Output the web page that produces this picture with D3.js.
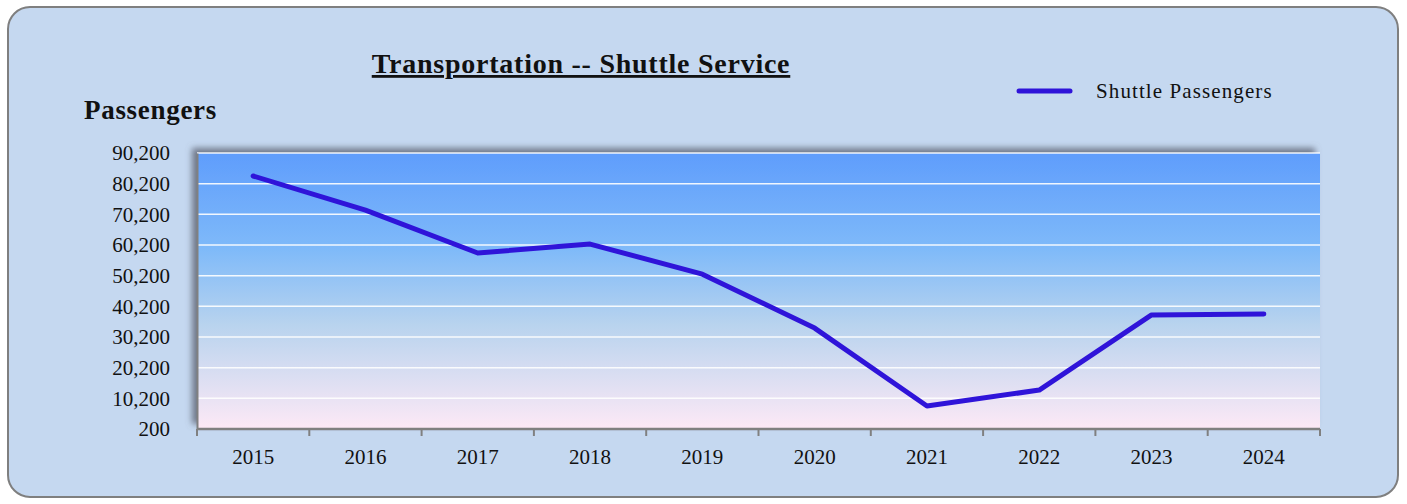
<!DOCTYPE html>
<html>
<head>
<meta charset="utf-8">
<script src="https://cdn.jsdelivr.net/npm/d3@7"></script>
<style>
  html, body { margin: 0; padding: 0; background: #ffffff; }
  svg { display: block; }
  text { font-family: "Palatino Linotype", "Book Antiqua", Palatino, "Liberation Serif", serif; fill: #111; }
</style>
</head>
<body>
<script>
// Shuttle ridership by year
const years = ["2015", "2016", "2017", "2018", "2019", "2020", "2021", "2022", "2023", "2024"];
const passengers = [82700, 71600, 57600, 60500, 50700, 33100, 7700, 12900, 37400, 37700];
const yTicks = [200, 10200, 20200, 30200, 40200, 50200, 60200, 70200, 80200, 90200];
const seriesName = "Shuttle Passengers";
const titleText = "Transportation -- Shuttle Service";
const yAxisTitle = "Passengers";

const W = 1407, H = 504;
const plot = { left: 197, right: 1320, top: 153, bottom: 429 };
const fontStack = '"Palatino Linotype", "Book Antiqua", Palatino, "Liberation Serif", serif';

const svg = d3.select("body").append("svg").attr("width", W).attr("height", H);
const defs = svg.append("defs");

const grad = defs.append("linearGradient").attr("id", "plotFill")
  .attr("x1", 0).attr("y1", 0).attr("x2", 0).attr("y2", 1);
grad.append("stop").attr("offset", "0%").attr("stop-color", "#5f9dfc");
grad.append("stop").attr("offset", "35%").attr("stop-color", "#7fbaf9");
grad.append("stop").attr("offset", "62%").attr("stop-color", "#b8d3ee");
grad.append("stop").attr("offset", "100%").attr("stop-color", "#fde9f6");

const shadow = defs.append("filter").attr("id", "plotShadow")
  .attr("x", "-5%").attr("y", "-20%").attr("width", "110%").attr("height", "140%");
shadow.append("feDropShadow").attr("dx", -5).attr("dy", -5).attr("stdDeviation", 3)
  .attr("flood-color", "#606878").attr("flood-opacity", 0.85);

// Outer rounded panel
svg.append("rect")
  .attr("x", 8).attr("y", 7).attr("width", 1390).attr("height", 490)
  .attr("rx", 22).attr("ry", 22)
  .attr("fill", "#c5d8f0").attr("stroke", "#7f7f7f").attr("stroke-width", 2);

const x = d3.scaleBand().domain(years).range([plot.left, plot.right]);
const y = d3.scaleLinear().domain([200, 90200]).range([plot.bottom, plot.top]);

// Plot area with gradient and shadow
svg.append("rect")
  .attr("x", plot.left).attr("y", plot.top)
  .attr("width", plot.right - plot.left).attr("height", plot.bottom - plot.top)
  .attr("fill", "url(#plotFill)")
  .attr("filter", "url(#plotShadow)");

// Horizontal gridlines
svg.append("g").selectAll("line").data(yTicks.slice(1)).join("line")
  .attr("x1", plot.left).attr("x2", plot.right)
  .attr("y1", d => y(d)).attr("y2", d => y(d))
  .attr("stroke", "#ffffff").attr("stroke-width", 1.5).attr("opacity", 0.9);

// Y axis
const yAxis = svg.append("g").attr("transform", `translate(${plot.left},0)`)
  .call(d3.axisLeft(y).tickValues(yTicks).tickSize(0).tickPadding(27).tickFormat(d3.format(",")));
yAxis.select(".domain").attr("stroke", "#808080").attr("stroke-width", 2);
yAxis.selectAll("text").attr("font-size", 21).attr("fill", "#111")
  .style("font-family", fontStack);

// X axis with ticks at band boundaries
const xAxisG = svg.append("g").attr("transform", `translate(0,${plot.bottom})`);
xAxisG.append("line").attr("x1", plot.left).attr("x2", plot.right).attr("y1", 0).attr("y2", 0)
  .attr("stroke", "#808080").attr("stroke-width", 2.5);
const bounds = years.map(d => x(d)).concat([x(years[years.length - 1]) + x.bandwidth()]);
xAxisG.selectAll("line.tick").data(bounds).join("line").attr("class", "tick")
  .attr("x1", d => d).attr("x2", d => d).attr("y1", 0).attr("y2", 7)
  .attr("stroke", "#808080").attr("stroke-width", 2);
xAxisG.selectAll("text").data(years).join("text")
  .attr("x", d => x(d) + x.bandwidth() / 2).attr("y", 35)
  .attr("text-anchor", "middle").attr("font-size", 21).text(d => d);

// Series line
const line = d3.line()
  .x((d, i) => x(years[i]) + x.bandwidth() / 2)
  .y(d => y(d));
svg.append("path").datum(passengers)
  .attr("d", line)
  .attr("fill", "none").attr("stroke", "#2f14d9").attr("stroke-width", 5)
  .attr("stroke-linejoin", "round").attr("stroke-linecap", "round");

// Title
svg.append("text").attr("x", 581).attr("y", 73).attr("text-anchor", "middle")
  .attr("font-size", 28).attr("font-weight", "bold").attr("letter-spacing", 0.75)
  .attr("text-decoration", "underline").text(titleText);

// Axis title
svg.append("text").attr("x", 84).attr("y", 119)
  .attr("font-size", 27).attr("font-weight", "bold").attr("letter-spacing", 0.7)
  .text(yAxisTitle);

// Legend
const legend = svg.append("g");
legend.append("line").attr("x1", 1019).attr("x2", 1070).attr("y1", 91).attr("y2", 91)
  .attr("stroke", "#2f14d9").attr("stroke-width", 5).attr("stroke-linecap", "round");
legend.append("text").attr("x", 1096).attr("y", 98).attr("font-size", 21)
  .attr("letter-spacing", 1.1).text(seriesName);
</script>
</body>
</html>
